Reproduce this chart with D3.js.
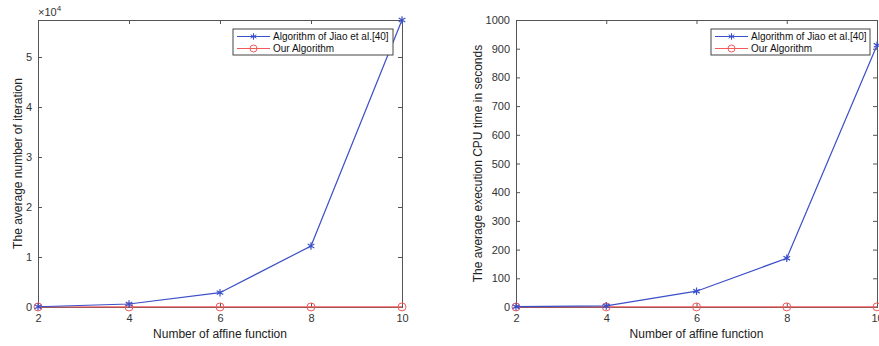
<!DOCTYPE html>
<html lang="en">
<head>
<meta charset="UTF-8">
<title>Iterations and CPU time</title>
<script src="https://d3js.org/d3.v7.min.js"></script>
<style>
  body { margin: 0; background: #fff; }
  svg { font-family: "Liberation Sans", Arial, sans-serif; }
  .tick text { fill: #333; font-size: 11px; }
  .domain, .tick line { stroke: #555; }
</style>
</head>
<body>
<svg width="879" height="346"></svg>
<script>
// data
var nAffine = [2, 4, 6, 8, 10];
var iterJiao = [50, 600, 2860, 12200, 57400];
var iterOurs = [5, 8, 10, 12, 15];
var timeJiao = [1, 4, 55, 170, 912];
var timeOurs = [0.1, 0.2, 0.3, 0.4, 0.5];
var iterTicks = [0, 10000, 20000, 30000, 40000, 50000];
var timeTicks = [0, 100, 200, 300, 400, 500, 600, 700, 800, 900, 1000];
var legendNames = ["Algorithm of Jiao et al.[40]", "Our Algorithm"];

var blue = "#3b4fc8", red = "#f25a5a";
var svg = d3.select("svg");

function drawPanel(opt) {
    var x = d3.scaleLinear().domain([2, 10]).range([opt.left, opt.right]);
    var y = d3.scaleLinear().domain([0, opt.ymax]).range([opt.bottom, opt.top]);
    var g = svg.append("g");

    // axes box with inward ticks
    g.append("g").attr("transform", "translate(0," + opt.bottom + ")")
        .call(d3.axisBottom(x).tickValues(nAffine).tickSize(-4).tickPadding(7).tickFormat(d3.format("d")));
    g.append("g").attr("transform", "translate(0," + opt.top + ")")
        .call(d3.axisTop(x).tickValues(nAffine).tickSize(-4).tickFormat(""));
    g.append("g").attr("transform", "translate(" + opt.left + ",0)")
        .call(d3.axisLeft(y).tickValues(opt.ticks).tickSize(-4).tickPadding(6).tickFormat(opt.fmt));
    g.append("g").attr("transform", "translate(" + opt.right + ",0)")
        .call(d3.axisRight(y).tickValues(opt.ticks).tickSize(-4).tickFormat(""));
    g.selectAll(".domain").attr("stroke-width", 1);

    var line = d3.line().x(function (d, i) { return x(nAffine[i]); }).y(function (d) { return y(d); });

    // red line, circles
    g.append("path").datum(opt.ours).attr("d", line).attr("fill", "none")
        .attr("stroke", red).attr("stroke-width", 1.2);
    g.selectAll("circle.ours").data(opt.ours).enter().append("circle")
        .attr("cx", function (d, i) { return x(nAffine[i]); })
        .attr("cy", function (d) { return y(d); })
        .attr("r", 4).attr("fill", "none").attr("stroke", red).attr("stroke-width", 1);

    // blue line, asterisks
    g.append("path").datum(opt.jiao).attr("d", line).attr("fill", "none")
        .attr("stroke", blue).attr("stroke-width", 1.2);
    var star = d3.symbol().type(d3.symbolAsterisk).size(40);
    g.selectAll("path.jiao").data(opt.jiao).enter().append("path")
        .attr("class", "jiao")
        .attr("transform", function (d, i) { return "translate(" + x(nAffine[i]) + "," + y(d) + ")"; })
        .attr("d", star).attr("fill", "none").attr("stroke", blue).attr("stroke-width", 1.2);

    // axis titles
    g.append("text").attr("x", (opt.left + opt.right) / 2).attr("y", 338)
        .attr("text-anchor", "middle").attr("font-size", 12).attr("fill", "#222")
        .text("Number of affine function");
    g.append("text").attr("transform", "translate(" + opt.ylabX + "," + ((opt.top + opt.bottom) / 2) + ") rotate(-90)")
        .attr("text-anchor", "middle").attr("font-size", 12).attr("fill", "#222")
        .text(opt.ylabel);

    if (opt.exp) {
        var t = g.append("text").attr("x", opt.left).attr("y", 16).attr("font-size", 11).attr("fill", "#333");
        t.append("tspan").text("\u00d710");
        t.append("tspan").attr("dy", -5).attr("font-size", 8).text("4");
    }

    // legend
    var lg = g.append("g").attr("transform", "translate(" + opt.legX + ",29)");
    lg.append("rect").attr("width", opt.legW).attr("height", 26)
        .attr("fill", "#fff").attr("stroke", "#444").attr("stroke-width", 1);
    var rows = [{c: blue, k: "jiao"}, {c: red, k: "ours"}];
    rows.forEach(function (r, i) {
        var yy = 7.5 + i * 12;
        lg.append("line").attr("x1", 4).attr("x2", 37).attr("y1", yy).attr("y2", yy)
            .attr("stroke", r.c).attr("stroke-width", 1.2);
        if (r.k === "jiao") {
            lg.append("path").attr("transform", "translate(20.5," + yy + ")")
                .attr("d", d3.symbol().type(d3.symbolAsterisk).size(30))
                .attr("fill", "none").attr("stroke", r.c);
        } else {
            lg.append("circle").attr("cx", 20.5).attr("cy", yy).attr("r", 3.5)
                .attr("fill", "none").attr("stroke", r.c);
        }
        lg.append("text").attr("x", 40).attr("y", yy + 3.5).attr("font-size", 10)
            .attr("fill", "#111").text(legendNames[i]);
    });
}

drawPanel({
    left: 38, right: 402, top: 20, bottom: 307, ymax: 57400,
    ticks: iterTicks, fmt: function (d) { return d / 10000; },
    jiao: iterJiao, ours: iterOurs, exp: true, ylabX: 22,
    ylabel: "The average number of iteration", legX: 233, legW: 160
});
drawPanel({
    left: 516, right: 877, top: 20, bottom: 307, ymax: 1000,
    ticks: timeTicks, fmt: d3.format("d"),
    jiao: timeJiao, ours: timeOurs, exp: false, ylabX: 482,
    ylabel: "The average execution CPU time in seconds", legX: 711, legW: 159
});
</script>
</body>
</html>
